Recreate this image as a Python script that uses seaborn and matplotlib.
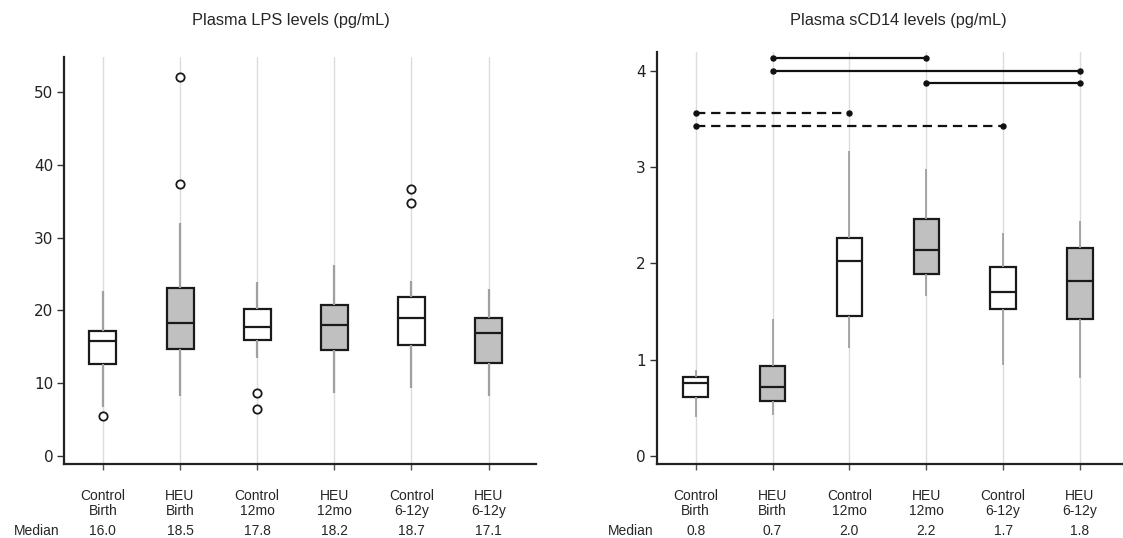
import numpy as np
import pandas as pd
import matplotlib
matplotlib.use("Agg")
import matplotlib.pyplot as plt
import seaborn as sns
from matplotlib.transforms import blended_transform_factory

# ---------------- data ----------------
categories = ["Control\nBirth", "HEU\nBirth", "Control\n12mo", "HEU\n12mo", "Control\n6-12y", "HEU\n6-12y"]
groups = ["Control", "HEU", "Control", "HEU", "Control", "HEU"]

lps_whisker_low = [6.7, 8.3, 13.4, 8.7, 9.4, 8.2]
lps_q1 = [12.6, 14.7, 15.9, 14.5, 15.2, 12.8]
lps_median = [15.8, 18.3, 17.7, 18.0, 18.9, 16.9]
lps_q3 = [17.2, 23.1, 20.2, 20.7, 21.9, 18.9]
lps_whisker_high = [22.6, 32.0, 23.9, 26.2, 24.0, 22.9]
lps_outlier_cat = [0, 1, 1, 2, 2, 4, 4]
lps_outlier_val = [5.5, 52.1, 37.3, 8.6, 6.5, 36.7, 34.7]
lps_median_labels = ["16.0", "18.5", "17.8", "18.2", "18.7", "17.1"]
lps_yticks = [0, 10, 20, 30, 40, 50]

cd14_whisker_low = [0.40, 0.42, 1.12, 1.66, 0.94, 0.81]
cd14_q1 = [0.61, 0.57, 1.45, 1.89, 1.53, 1.42]
cd14_median = [0.76, 0.71, 2.02, 2.14, 1.70, 1.82]
cd14_q3 = [0.82, 0.93, 2.26, 2.46, 1.96, 2.16]
cd14_whisker_high = [0.89, 1.42, 3.17, 2.98, 2.32, 2.44]
cd14_median_labels = ["0.8", "0.7", "2.0", "2.2", "1.7", "1.8"]
cd14_yticks = [0, 1, 2, 3, 4]

sig_start = [1, 1, 3, 0, 0]
sig_end = [3, 5, 5, 2, 4]
sig_y = [4.135, 4.0, 3.87, 3.56, 3.43]
sig_dashed = [False, False, False, True, True]

# ---------------- style ----------------
sns.set_style("white")
plt.rcParams["font.family"] = ["Liberation Sans", "DejaVu Sans"]

W, H = 1123, 538
fig = plt.figure(figsize=(W / 100, H / 100), dpi=100)

ax1 = fig.add_axes([64.3 / W, 1 - 464 / H, (536.4 - 64.3) / W, (464 - 57) / H])
ax2 = fig.add_axes([657 / W, 1 - 464 / H, (1123 - 657) / W, (464 - 51.7) / H])

DARK = "#1a1a1a"
palette = {"Control": "white", "HEU": "#c0c0c0"}
LABEL_FS = 10


def make_frame(lo, q1, med, q3, hi):
    rows = []
    for i, cat in enumerate(categories):
        for v in (lo[i], q1[i], med[i], q3[i], hi[i]):
            rows.append({"cat": cat, "grp": groups[i], "val": v})
    return pd.DataFrame(rows)


def draw_panel(ax, df, width, ylim, xlim, yticks, medlabels, whisk_lw):
    sns.boxplot(
        data=df, x="cat", y="val", hue="grp", order=categories,
        hue_order=["Control", "HEU"], palette=palette, dodge=False,
        width=width, whis=np.inf, showfliers=False, legend=False,
        linecolor=DARK, linewidth=1.6,
        boxprops=dict(edgecolor=DARK, linewidth=1.6),
        whiskerprops=dict(color="#a0a0a0", linewidth=whisk_lw),
        capprops=dict(visible=False),
        medianprops=dict(color=DARK, linewidth=1.6),
        ax=ax,
    )
    ax.set_xlim(*xlim)
    ax.set_ylim(*ylim)
    ax.set_yticks(yticks)
    ax.set_xticks(range(len(categories)))
    ax.set_xticklabels(categories, fontsize=LABEL_FS, linespacing=1.1)
    ax.set_xlabel("")
    ax.set_ylabel("")
    ax.xaxis.grid(True, color="#dcdcdc", linewidth=1.0)
    ax.yaxis.grid(False)
    ax.set_axisbelow(True)
    sns.despine(ax=ax)
    for s in ("left", "bottom"):
        ax.spines[s].set_color("#222222")
        ax.spines[s].set_linewidth(1.6)
    ax.tick_params(axis="y", length=5, width=1, color="#333333", labelsize=11, pad=3, left=True)
    ax.tick_params(axis="x", length=4, width=1, color="#555555", pad=14, bottom=True)
    for lbl in ax.get_yticklabels():
        lbl.set_fontfamily("DejaVu Sans")
        lbl.set_color("#222222")
    tr = blended_transform_factory(ax.transData, fig.transFigure)
    for i, m in enumerate(medlabels):
        ax.text(i, 1 - 531 / H, m, transform=tr, ha="center", va="center", fontsize=LABEL_FS)


df1 = make_frame(lps_whisker_low, lps_q1, lps_median, lps_q3, lps_whisker_high)
draw_panel(ax1, df1, 0.35, (-1.1, 54.8), (-0.5, 5.62), lps_yticks, lps_median_labels, 1.6)
sns.scatterplot(x=lps_outlier_cat, y=lps_outlier_val, marker="o", s=36,
                facecolor="white", edgecolor=DARK, linewidth=1.3, zorder=5, ax=ax1)
ax1.set_xlim(-0.5, 5.62)

df2 = make_frame(cd14_whisker_low, cd14_q1, cd14_median, cd14_q3, cd14_whisker_high)
draw_panel(ax2, df2, 0.33, (-0.086, 4.2), (-0.504, 5.56), cd14_yticks, cd14_median_labels, 1.3)

for s, e, y, d in zip(sig_start, sig_end, sig_y, sig_dashed):
    line, = ax2.plot([s, e], [y, y], color="#111111", linewidth=1.6,
                     marker="o", markersize=3.6, zorder=6, clip_on=False)
    if d:
        line.set_dashes((4.2, 2.6))

fig.text(291 / W, 1 - 20 / H, "Plasma LPS levels (pg/mL)", ha="center", va="center", fontsize=11.8)
fig.text(898 / W, 1 - 20 / H, "Plasma sCD14 levels (pg/mL)", ha="center", va="center", fontsize=11.8)
fig.text(37 / W, 1 - 531 / H, "Median", ha="center", va="center", fontsize=LABEL_FS)
fig.text(631 / W, 1 - 531 / H, "Median", ha="center", va="center", fontsize=LABEL_FS)

fig.savefig("out.png", dpi=100)
